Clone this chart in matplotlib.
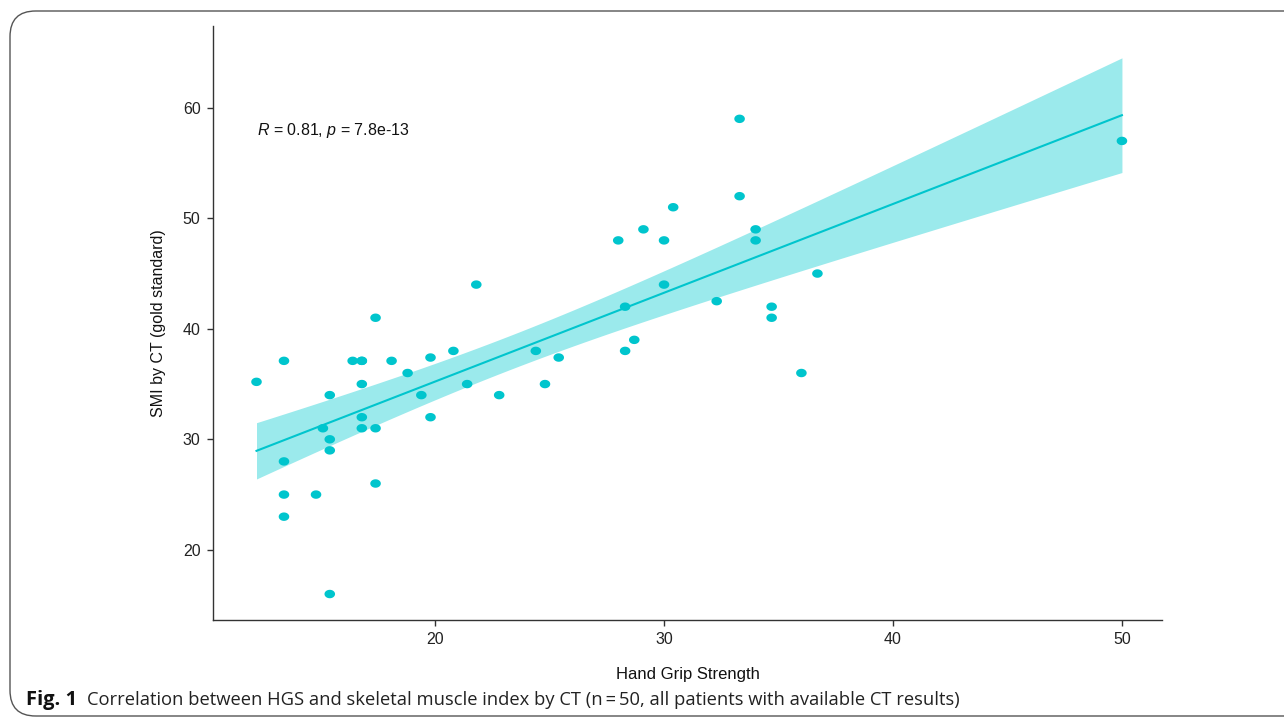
import numpy as np
import matplotlib
matplotlib.use("Agg")
import matplotlib.pyplot as plt
from matplotlib.patches import FancyBboxPatch
from matplotlib.path import Path

plt.rcParams['font.family'] = ['Liberation Sans', 'DejaVu Sans']
plt.rcParams['mathtext.fontset'] = 'custom'
plt.rcParams['mathtext.it'] = 'Liberation Sans:italic'
plt.rcParams['mathtext.rm'] = 'Liberation Sans'

# Data
hgs = [12.2, 13.4, 13.4, 13.4, 13.4, 14.8, 15.1, 15.4, 15.4, 15.4, 15.4,
       16.4, 16.8, 16.8, 16.8, 16.8, 17.4, 17.4, 17.4, 18.1, 18.8, 19.4,
       19.8, 19.8, 20.8, 21.4, 21.8, 22.8, 24.4, 24.8, 25.4, 28.0, 28.3,
       28.3, 28.7, 29.1, 30.0, 30.0, 30.4, 32.3, 33.3, 33.3, 34.0, 34.0,
       34.7, 34.7, 36.0, 36.7, 50.0, 16.8]
smi = [35.2, 37.1, 28.0, 25.0, 23.0, 25.0, 31.0, 34.0, 30.0, 29.0, 16.0,
       37.1, 37.1, 35.0, 32.0, 31.0, 41.0, 31.0, 26.0, 37.1, 36.0, 34.0,
       37.4, 32.0, 38.0, 35.0, 44.0, 34.0, 38.0, 35.0, 37.4, 48.0, 42.0,
       38.0, 39.0, 49.0, 48.0, 44.0, 51.0, 42.5, 59.0, 52.0, 49.0, 48.0,
       42.0, 41.0, 36.0, 45.0, 57.0, 37.1]
x_ticks = [20, 30, 40, 50]
y_ticks = [20, 30, 40, 50, 60]
stat_label = r"$R$ = 0.81, $p$ = 7.8e-13"

x = np.array(hgs)
y = np.array(smi)
n = len(x)
b1, b0 = np.polyfit(x, y, 1)
xs = np.linspace(x.min(), x.max(), 80)
yhat = b0 + b1 * xs
resid = y - (b0 + b1 * x)
s = np.sqrt(np.sum(resid ** 2) / (n - 2))
se = s * np.sqrt(1.0 / n + (xs - x.mean()) ** 2 / np.sum((x - x.mean()) ** 2))
tq = 2.0106
lo, hi = yhat - tq * se, yhat + tq * se

# slightly wide rounded marker
t = np.linspace(0, 2 * np.pi, 40)
verts = np.column_stack([1.25 * np.cos(t), np.sin(t)])
ell = Path(verts, closed=True)

col = '#00C5CD'
fig = plt.figure(figsize=(12.84, 7.19), dpi=100)
ax = fig.add_axes([213 / 1284, 1 - 620 / 719, (1162 - 213) / 1284, (620 - 26) / 719])

ax.fill_between(xs, lo, hi, color='#9BEAEC', lw=0, zorder=1)
ax.plot(xs, yhat, color=col, lw=1.5, zorder=2)
ax.scatter(x, y, s=58, marker=ell, color=col, edgecolors='none', zorder=3)

ax.set_xlim(10.3, 51.75)
ax.set_ylim(13.65, 67.4)
ax.set_xticks(x_ticks)
ax.set_yticks(y_ticks)
for sp in ['top', 'right']:
    ax.spines[sp].set_visible(False)
for sp in ['left', 'bottom']:
    ax.spines[sp].set_color('#333333')
    ax.spines[sp].set_linewidth(1.0)
ax.tick_params(axis='both', direction='out', length=4, width=1, color='#333333',
               labelsize=11.5, labelcolor='#222222', pad=5)
ax.set_xlabel('Hand Grip Strength', fontsize=12, color='#111111', labelpad=14)
ax.set_ylabel('SMI by CT (gold standard)', fontsize=11.5, color='#111111', labelpad=12)
ax.text(12.2, 57.9, stat_label, fontsize=11.5, va='center', ha='left', color='#111111')

# Frame around figure
frame = FancyBboxPatch((10 / 1284, 3 / 719), 1.2, 705 / 719,
                       boxstyle='round,pad=0,rounding_size=0.02',
                       transform=fig.transFigure, fill=False,
                       edgecolor='#555555', lw=1.0, clip_on=False,
                       mutation_aspect=1284 / 719)
fig.patches.append(frame)

cap_fam = ['Open Sans', 'DejaVu Sans']
fig.text(26 / 1284, 1 - 700 / 719, 'Fig. 1', fontsize=14.5, fontweight='bold',
         family=cap_fam, va='center', ha='left', color='#111111')
fig.text(87 / 1284, 1 - 700 / 719,
         'Correlation between HGS and skeletal muscle index by CT (n\u2009=\u200950, all patients with available CT results)',
         fontsize=13.25, family=cap_fam, va='center', ha='left', color='#222222')

fig.savefig('out.png', dpi=100)
